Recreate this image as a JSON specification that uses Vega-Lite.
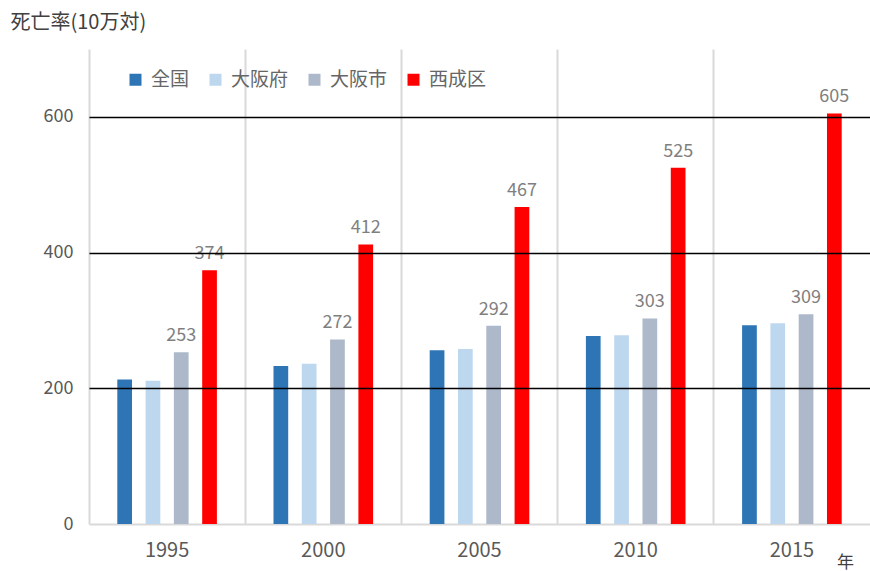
{
  "$schema": "https://vega.github.io/schema/vega-lite/v6.json",
  "width": 781,
  "height": 475,
  "autosize": {"type": "none"},
  "padding": {"left": 89, "top": 49, "right": 0, "bottom": 47},
  "background": "white",
  "config": {"view": {"stroke": null}, "font": "Noto Sans CJK JP"},
  "data": {
    "values": [
      {"year": "1995", "series": "全国", "value": 213},
      {"year": "1995", "series": "大阪府", "value": 211},
      {"year": "1995", "series": "大阪市", "value": 253},
      {"year": "1995", "series": "西成区", "value": 374},
      {"year": "2000", "series": "全国", "value": 233},
      {"year": "2000", "series": "大阪府", "value": 236},
      {"year": "2000", "series": "大阪市", "value": 272},
      {"year": "2000", "series": "西成区", "value": 412},
      {"year": "2005", "series": "全国", "value": 256},
      {"year": "2005", "series": "大阪府", "value": 258},
      {"year": "2005", "series": "大阪市", "value": 292},
      {"year": "2005", "series": "西成区", "value": 467},
      {"year": "2010", "series": "全国", "value": 277},
      {"year": "2010", "series": "大阪府", "value": 278},
      {"year": "2010", "series": "大阪市", "value": 303},
      {"year": "2010", "series": "西成区", "value": 525},
      {"year": "2015", "series": "全国", "value": 293},
      {"year": "2015", "series": "大阪府", "value": 296},
      {"year": "2015", "series": "大阪市", "value": 309},
      {"year": "2015", "series": "西成区", "value": 605}
    ]
  },
  "encoding": {
    "x": {
      "field": "year",
      "type": "nominal",
      "scale": {"paddingInner": 0, "paddingOuter": 0},
      "axis": {
        "domain": true,
        "domainColor": "#d9d9d9",
        "domainWidth": 2,
        "ticks": false,
        "grid": true,
        "gridColor": "#d9d9d9",
        "gridWidth": 2,
        "bandPosition": 0,
        "labelAngle": 0,
        "labelFontSize": 20,
        "labelColor": "#595959",
        "labelPadding": 16,
        "title": "年",
        "titleX": 756,
        "titleY": 38,
        "titleAlign": "center",
        "titleBaseline": "middle",
        "titleFontSize": 17,
        "titleFontWeight": "normal",
        "titleColor": "#404040"
      }
    },
    "xOffset": {
      "field": "series",
      "type": "nominal",
      "sort": ["全国", "大阪府", "大阪市", "西成区"],
      "scale": {"paddingInner": 0.48, "paddingOuter": 1.15}
    },
    "y": {
      "field": "value",
      "type": "quantitative",
      "scale": {"domain": [0, 700], "nice": false},
      "axis": {
        "values": [0, 200, 400, 600],
        "domain": false,
        "ticks": false,
        "grid": true,
        "gridColor": "#000000",
        "gridWidth": 1.5,
        "gridOpacity": {"condition": {"test": "datum.value === 0", "value": 0}, "value": 1},
        "zindex": 1,
        "labelFontSize": 18,
        "labelColor": "#595959",
        "labelPadding": 16,
        "title": "死亡率(10万対)",
        "titleAngle": 0,
        "titleAlign": "left",
        "titleBaseline": "middle",
        "titleX": -79,
        "titleY": -27,
        "titleFontSize": 20,
        "titleFontWeight": "normal",
        "titleColor": "#404040"
      }
    }
  },
  "layer": [
    {
      "mark": {"type": "bar"},
      "encoding": {
        "color": {
          "field": "series",
          "type": "nominal",
          "sort": ["全国", "大阪府", "大阪市", "西成区"],
          "scale": {
            "domain": ["全国", "大阪府", "大阪市", "西成区"],
            "range": ["#2e75b6", "#bdd7ee", "#adb9ca", "#ff0000"]
          },
          "legend": {
            "title": null,
            "orient": "none",
            "direction": "horizontal",
            "legendX": 37,
            "legendY": 21,
            "padding": 0,
            "symbolType": "square",
            "symbolSize": 144,
            "symbolStrokeWidth": 0,
            "labelFontSize": 19,
            "labelColor": "#666666",
            "labelOffset": 6,
            "columnPadding": 16
          }
        }
      }
    },
    {
      "transform": [{"filter": "datum.series === '大阪市' || datum.series === '西成区'"}],
      "mark": {"type": "text", "baseline": "bottom", "dy": -7, "fontSize": 18, "color": "#7f7f7f"},
      "encoding": {
        "text": {"field": "value", "type": "quantitative"}
      }
    }
  ]
}
